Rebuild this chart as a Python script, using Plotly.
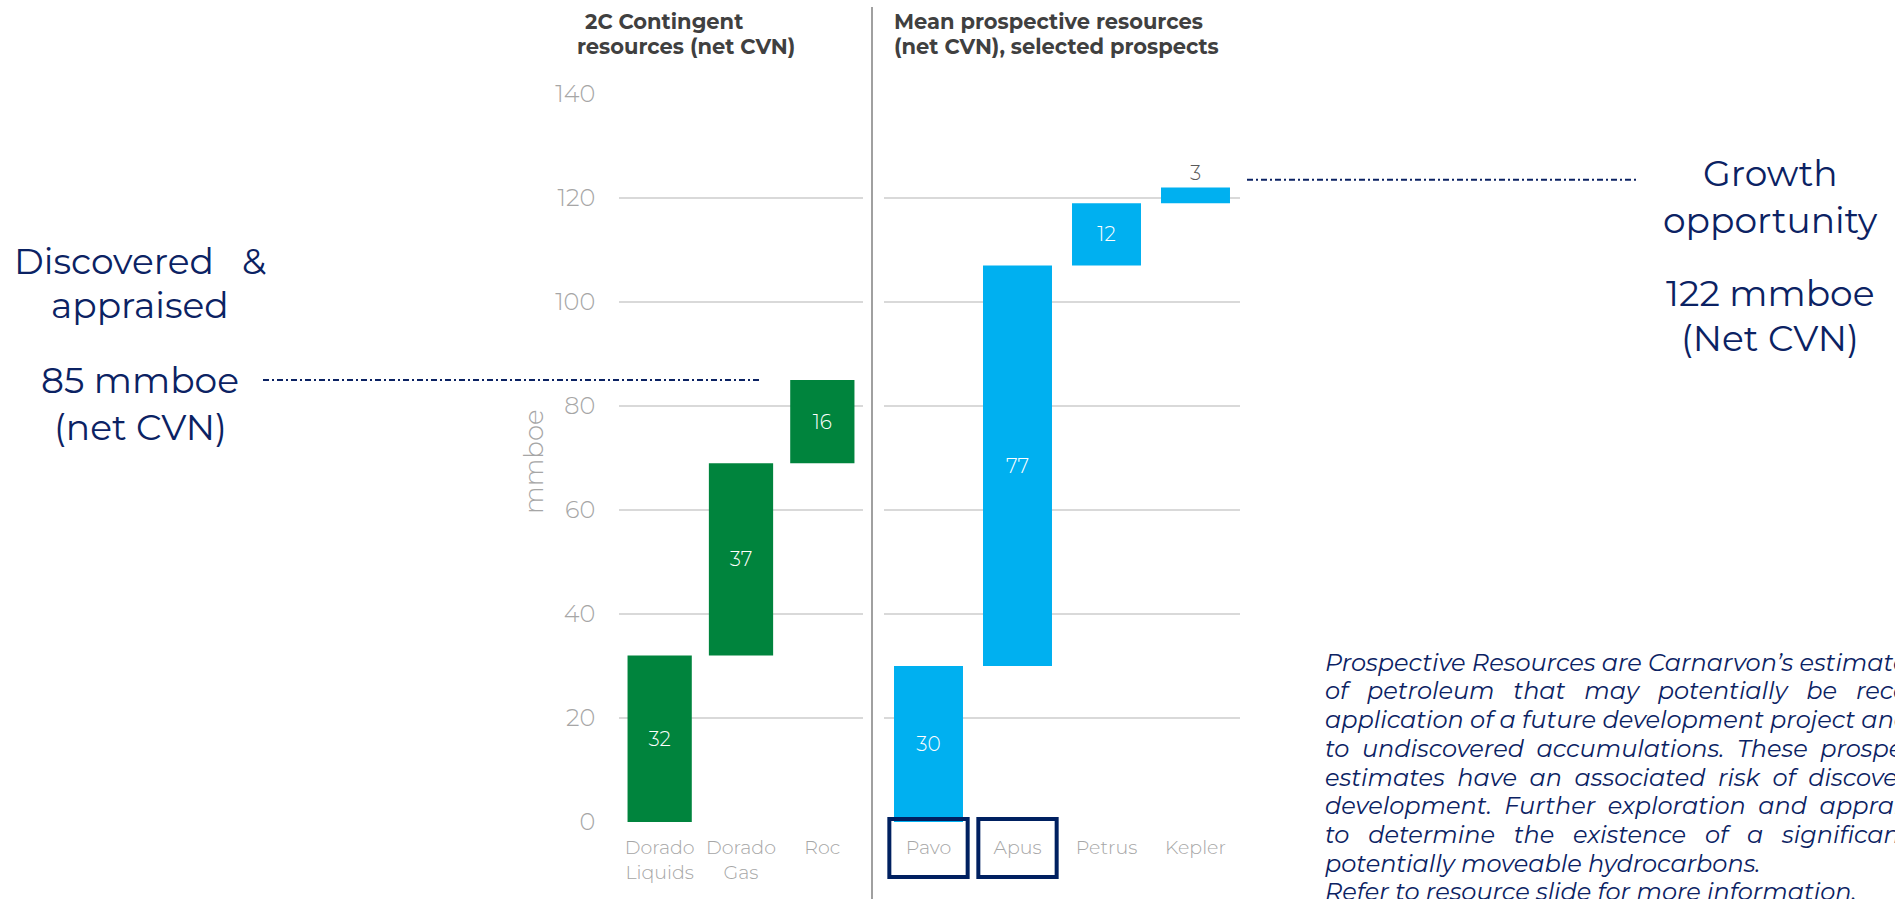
import plotly.graph_objects as go
import numpy as np

# ---------------- data ----------------
contingent_names = ["Dorado<br>Liquids", "Dorado<br>Gas", "Roc"]
contingent_values = [32, 37, 16]
prospect_names = ["Pavo", "Apus", "Petrus", "Kepler"]
prospect_values = [30, 77, 12, 3]
y_ticks = [0, 20, 40, 60, 80, 100, 120, 140]
discovered_total = 85
growth_total = 122
growth_line_level = 123.5
highlighted = ["Pavo", "Apus"]

GREEN = "#00843D"
BLUE = "#00B0F0"
NAVY = "#0B2263"
GRAY = "#A6A6A6"
DARK = "#404040"
FONT = "Montserrat, Open Sans, sans-serif"

W, H = 1895, 899

def px_x(x):
    return x / W

def px_y(y):
    return 1 - y / H

c_base = list(np.cumsum([0] + contingent_values[:-1]))
p_base = list(np.cumsum([0] + prospect_values[:-1]))

fig = go.Figure()
fig.add_trace(go.Bar(
    x=contingent_names, y=contingent_values, base=c_base,
    marker=dict(color=GREEN, line=dict(width=0)), width=0.79,
    text=[str(v) for v in contingent_values], textposition="inside",
    insidetextanchor="middle", constraintext="none",
    insidetextfont=dict(color="white", size=20, family=FONT, weight=300),
    xaxis="x", yaxis="y", hoverinfo="skip", showlegend=False,
))
p_pos = ["inside" if v > 5 else "outside" for v in prospect_values]
fig.add_trace(go.Bar(
    x=prospect_names, y=prospect_values, base=p_base,
    marker=dict(color=BLUE, line=dict(width=0)), width=0.775,
    text=[str(v) for v in prospect_values], textposition=p_pos,
    insidetextanchor="middle", constraintext="none", cliponaxis=False,
    insidetextfont=dict(color="white", size=20, family=FONT, weight=300),
    outsidetextfont=dict(color="#595959", size=20, family=FONT, weight=300),
    xaxis="x2", yaxis="y2", hoverinfo="skip", showlegend=False,
))

ydom = [px_y(822), px_y(94)]
axis_common = dict(
    tickfont=dict(color=GRAY, size=19, family=FONT, weight=300),
    showline=False, zeroline=False, showgrid=False,
    ticks="outside", ticklen=8, tickcolor="rgba(0,0,0,0)",
    fixedrange=True, automargin=False,
)
fig.update_layout(
    width=W, height=H,
    margin=dict(l=0, r=0, t=0, b=0, autoexpand=False),
    paper_bgcolor="white", plot_bgcolor="white",
    font=dict(family=FONT),
    barmode="overlay",
    xaxis=dict(domain=[px_x(619), px_x(863)], anchor="y", **axis_common),
    xaxis2=dict(domain=[px_x(884), px_x(1240)], anchor="y2", **axis_common),
    yaxis=dict(domain=ydom, range=[0, 140], tickvals=y_ticks,
               showgrid=True, gridcolor="#D9D9D9", gridwidth=2,
               zeroline=False, showline=False,
               ticks="outside", ticklen=18, tickcolor="rgba(0,0,0,0)",
               tickfont=dict(color=GRAY, size=24, family=FONT, weight=300),
               anchor="x", fixedrange=True, automargin=False),
    yaxis2=dict(domain=ydom, range=[0, 140], tickvals=y_ticks,
                showgrid=True, gridcolor="#D9D9D9", gridwidth=2,
                zeroline=False, showline=False, showticklabels=False,
                anchor="x2", fixedrange=True, automargin=False),
)

shapes = []
# separator
shapes.append(dict(type="line", xref="paper", yref="paper",
                   x0=px_x(872), x1=px_x(872), y0=0, y1=px_y(7),
                   line=dict(color="#A0A0A0", width=2)))
# reference lines
shapes.append(dict(type="line", xref="paper", yref="y",
                   x0=px_x(263), x1=px_x(762), y0=discovered_total, y1=discovered_total,
                   line=dict(color=NAVY, width=2, dash="6px,3px,2px,3px")))
shapes.append(dict(type="line", xref="paper", yref="y",
                   x0=px_x(1247), x1=px_x(1639), y0=growth_line_level, y1=growth_line_level,
                   line=dict(color=NAVY, width=2, dash="6px,3px,2px,3px")))
# highlight boxes
for name in highlighted:
    i = prospect_names.index(name)
    shapes.append(dict(type="rect", xref="x2", yref="paper",
                       x0=i - 0.44, x1=i + 0.44, y0=px_y(877), y1=px_y(819),
                       line=dict(color="#002060", width=4), fillcolor="rgba(0,0,0,0)"))
fig.update_layout(shapes=shapes)

ann = []
def text(x, y, s, size, color, xanchor="center", weight=400, italic=False, angle=0):
    ann.append(dict(x=px_x(x), y=px_y(y), xref="paper", yref="paper", text=s,
                    showarrow=False, xanchor=xanchor, yanchor="middle",
                    textangle=angle,
                    font=dict(size=size, color=color, family=FONT, weight=weight,
                              style="italic" if italic else "normal")))

# panel titles
text(664, 22, "2C Contingent", 21, DARK, weight=700)
text(686, 47, "resources (net CVN)", 21, DARK, weight=700)
text(892, 22, "Mean prospective resources", 21, DARK, xanchor="left", weight=700)
text(892, 47, "(net CVN), selected prospects", 21, DARK, xanchor="left", weight=700)
# y-axis title
text(534, 462, "mmboe", 26, GRAY, weight=300, angle=-90)
# left callout
text(140, 261, "Discovered\u00a0\u00a0\u00a0&", 36, NAVY)
text(140, 305, "appraised", 36, NAVY)
text(140, 380, f"{discovered_total} mmboe", 36, NAVY)
text(140, 427, "(net CVN)", 36, NAVY)
# right callout
text(1770, 173, "Growth", 36, NAVY)
text(1770, 220, "opportunity", 36, NAVY)
text(1770, 293, f"{growth_total} mmboe", 36, NAVY)
text(1770, 338, "(Net CVN)", 36, NAVY)

# paragraph (justified look approximated by extra word spacing per line)
para = [
    ("Prospective Resources are Carnarvon\u2019s estimated quantities", 1),
    ("of petroleum that may potentially be recovered by the", 3),
    ("application of a future development project and relate", 1),
    ("to undiscovered accumulations. These prospective", 2),
    ("estimates have an associated risk of discovery and", 2),
    ("development. Further exploration and appraisal is required", 2),
    ("to determine the existence of a significant quantity of", 3),
    ("potentially moveable hydrocarbons.", 1),
    ("Refer to resource slide for more information.", 1),
]
para_y = [662, 690, 719, 748, 777, 805, 834, 863, 891]
for (s, nsp), yy in zip(para, para_y):
    s2 = ("\u00a0" * nsp).join(s.split(" "))
    text(1323, yy, s2, 24, NAVY, xanchor="left", weight=400, italic=True)

fig.update_layout(annotations=ann)
fig.write_html("out.html")
